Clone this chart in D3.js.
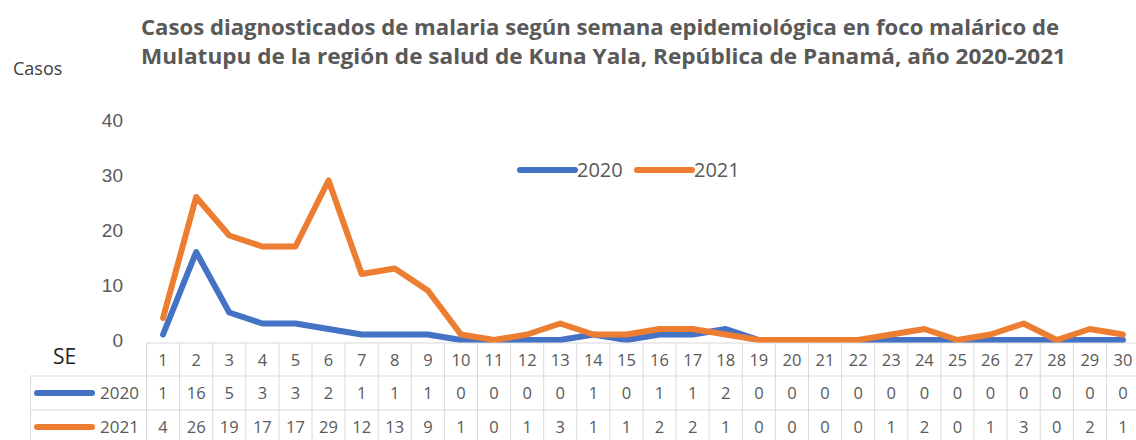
<!DOCTYPE html>
<html lang="es">
<head>
  <meta charset="UTF-8">
  <title>Casos de malaria por semana epidemiológica - Mulatupu</title>
  <script src="https://d3js.org/d3.v7.min.js"></script>
  <style>
    * {
      margin: 0;
      padding: 0;
      box-sizing: border-box;
    }

    body {
      background: #fff;
      width: 1136px;
      height: 440px;
      overflow: hidden;
      font-family: 'Open Sans', sans-serif;
    }

    .title {
      font-size: 22px;
      font-weight: bold;
      fill: #595959;
    }

    .tick-label {
      font-size: 19px;
      fill: #595959;
    }

    .cell {
      font-size: 16.5px;
      fill: #595959;
      text-anchor: middle;
    }

    .grid {
      stroke: #d9d9d9;
      stroke-width: 1;
    }
  </style>
</head>
<body>

  <svg id="chart"></svg>

  <script>

    const weeks = ["1", "2", "3", "4", "5", "6", "7", "8", "9", "10",
                   "11", "12", "13", "14", "15", "16", "17", "18", "19", "20",
                   "21", "22", "23", "24", "25", "26", "27", "28", "29", "30"];

    const cases2020 = [1, 16, 5, 3, 3, 2, 1, 1, 1, 0, 0, 0, 0, 1, 0,
                       1, 1, 2, 0, 0, 0, 0, 0, 0, 0, 0, 0, 0, 0, 0];

    const cases2021 = [4, 26, 19, 17, 17, 29, 12, 13, 9, 1, 0, 1, 3, 1, 1,
                       2, 2, 1, 0, 0, 0, 0, 1, 2, 0, 1, 3, 0, 2, 1];

    const yTicks = [0, 10, 20, 30, 40];

    const titleLines = [
      "Casos diagnosticados de malaria según semana epidemiológica en foco malárico de",
      "Mulatupu de la región de salud de Kuna Yala, República de Panamá, año 2020-2021"
    ];

    const series = [
      { name: "2020", values: cases2020, color: "#4472C4" },
      { name: "2021", values: cases2021, color: "#ED7D31" }
    ];

    const width = 1136;
    const height = 440;

    const svg = d3.select("#chart")
      .attr("width", width)
      .attr("height", height);

    // scales
    const colW = 33.1;
    const x = d3.scaleBand()
      .domain(weeks)
      .range([146.5, 146.5 + colW * weeks.length])
      .padding(0);

    const y = d3.scaleLinear()
      .domain([0, 40])
      .range([340, 120]);

    // title
    const titleLens = [918, 925];
    svg.selectAll(".title")
      .data(titleLines)
      .enter().append("text")
      .attr("class", "title")
      .attr("x", 141)
      .attr("y", (d, i) => 34.5 + i * 29)
      .attr("textLength", (d, i) => titleLens[i])
      .attr("lengthAdjust", "spacingAndGlyphs")
      .text(d => d);

    svg.append("text")
      .attr("x", 13)
      .attr("y", 75)
      .style("font-size", "18px")
      .style("fill", "#404040")
      .text("Casos");

    // y axis labels (no axis line)
    const yAxis = d3.axisLeft(y).tickValues(yTicks).tickSize(0).tickPadding(0);
    const yg = svg.append("g")
      .attr("transform", "translate(123,0)")
      .call(yAxis);
    yg.select(".domain").remove();
    yg.selectAll("text")
      .attr("class", "tick-label")
      .attr("font-family", null)
      .attr("font-size", null)
      .attr("fill", null);

    // legend
    const legend = svg.append("g").attr("transform", "translate(520,170)");
    const legendItem = legend.selectAll("g")
      .data(series)
      .enter().append("g")
      .attr("transform", (d, i) => `translate(${i * 117},0)`);
    legendItem.append("line")
      .attr("x1", 0).attr("x2", 55)
      .attr("stroke", d => d.color)
      .attr("stroke-width", 6)
      .attr("stroke-linecap", "round");
    legendItem.append("text")
      .attr("x", 57)
      .attr("dy", "0.35em")
      .style("font-size", "20px")
      .style("fill", "#595959")
      .text(d => d.name);

    // lines
    const line = d3.line()
      .x((d, i) => x(weeks[i]) + x.bandwidth() / 2)
      .y(d => y(d));

    svg.selectAll(".series")
      .data(series)
      .enter().append("path")
      .attr("class", "series")
      .attr("d", d => line(d.values))
      .attr("fill", "none")
      .attr("stroke", d => d.color)
      .attr("stroke-width", 6)
      .attr("stroke-linejoin", "round")
      .attr("stroke-linecap", "round");

    // data table
    const rowTop = [343, 376, 410];
    const rowH = 34;
    const xLeft = x.range()[0];
    const xRight = x.range()[1];
    const table = svg.append("g");

    table.append("line").attr("class", "grid")
      .attr("x1", xLeft).attr("x2", xRight)
      .attr("y1", rowTop[0]).attr("y2", rowTop[0]);
    table.selectAll(".hline")
      .data(rowTop.slice(1))
      .enter().append("line")
      .attr("class", "grid")
      .attr("x1", 30).attr("x2", xRight)
      .attr("y1", d => d).attr("y2", d => d);
    table.append("line").attr("class", "grid")
      .attr("x1", 30.5).attr("x2", 30.5)
      .attr("y1", rowTop[1]).attr("y2", height);
    table.selectAll(".vline")
      .data(weeks.concat(["end"]))
      .enter().append("line")
      .attr("class", "grid")
      .attr("x1", (d, i) => xLeft + i * x.step())
      .attr("x2", (d, i) => xLeft + i * x.step())
      .attr("y1", rowTop[0]).attr("y2", height);

    svg.append("text")
      .attr("x", 53)
      .attr("y", 364)
      .style("font-size", "21px")
      .style("fill", "#262626")
      .text("SE");

    table.selectAll(".head")
      .data(weeks)
      .enter().append("text")
      .attr("class", "cell")
      .attr("x", d => x(d) + x.bandwidth() / 2)
      .attr("y", rowTop[0] + rowH / 2)
      .attr("dy", "0.35em")
      .text(d => d);

    series.forEach((s, si) => {
      const cy = rowTop[si + 1] + rowH / 2;
      table.append("line")
        .attr("x1", 37).attr("x2", 92)
        .attr("y1", cy).attr("y2", cy)
        .attr("stroke", s.color)
        .attr("stroke-width", 6)
        .attr("stroke-linecap", "round");
      table.append("text")
        .attr("x", 139)
        .attr("y", cy)
        .attr("dy", "0.35em")
        .attr("text-anchor", "end")
        .style("font-size", "17px")
        .style("fill", "#595959")
        .text(s.name);
      table.selectAll(".v" + s.name)
        .data(s.values)
        .enter().append("text")
        .attr("class", "cell")
        .attr("x", (d, i) => x(weeks[i]) + x.bandwidth() / 2)
        .attr("y", cy)
        .attr("dy", "0.35em")
        .text(d => d);
    });

  </script>
</body>
</html>
